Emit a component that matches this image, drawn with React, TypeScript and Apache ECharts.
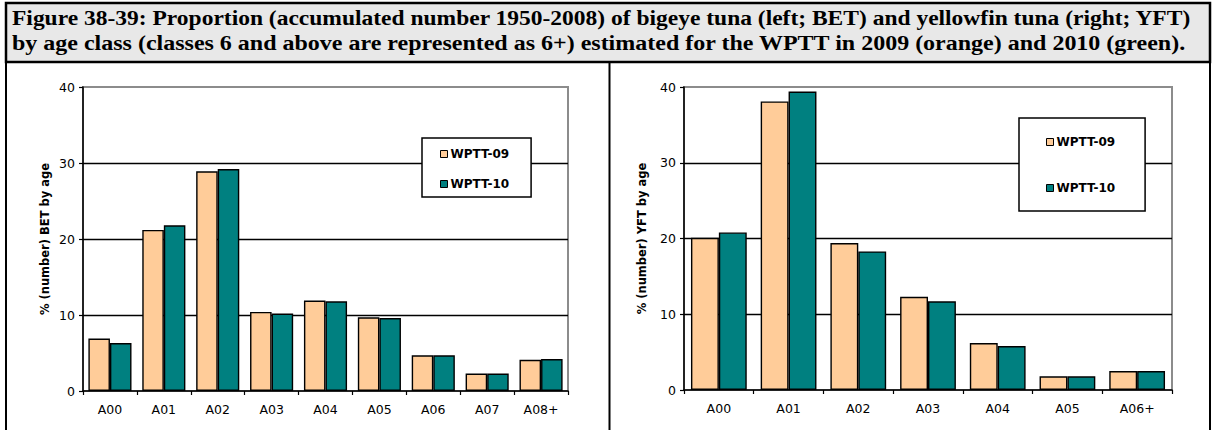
import React, { useEffect, useRef } from "react";
import * as echarts from "echarts";

// Age classes and proportions (%) by number, bigeye (BET) and yellowfin (YFT)
const betAges = ["A00", "A01", "A02", "A03", "A04", "A05", "A06", "A07", "A08+"];
const betWptt09 = [6.9, 21.2, 28.9, 10.4, 11.9, 9.7, 4.7, 2.3, 4.1];
const betWptt10 = [6.3, 21.8, 29.2, 10.2, 11.8, 9.6, 4.7, 2.3, 4.2];

const yftAges = ["A00", "A01", "A02", "A03", "A04", "A05", "A06+"];
const yftWptt09 = [20.1, 38.1, 19.4, 12.3, 6.2, 1.8, 2.5];
const yftWptt10 = [20.8, 39.4, 18.3, 11.7, 5.8, 1.8, 2.5];

const yMin = 0;
const yMax = 40;
const yStep = 10;

const seriesNames = ["WPTT-09", "WPTT-10"];
const seriesColors = ["#FFCC99", "#008080"];

const titleLines = [
  "Figure 38-39: Proportion (accumulated number 1950-2008) of bigeye tuna (left; BET) and yellowfin tuna (right; YFT)",
  "by age class (classes 6 and above are represented as 6+) estimated for the WPTT in 2009 (orange) and 2010 (green).",
];

const axisFont = "DejaVu Sans";
const titleFamily = "Liberation Serif";
const titleSize = 20;

// Horizontal stretch so the caption spans the header box like a wide book face
function captionScale(text: string, target: number) {
  const ctx = document.createElement("canvas").getContext("2d");
  if (!ctx) return 1;
  ctx.font = `bold ${titleSize}px "${titleFamily}"`;
  const w = ctx.measureText(text).width;
  return w > 0 ? target / w : 1;
}

function xAxisFor(ages: string[], gridIndex: number) {
  return {
    type: "category",
    gridIndex,
    data: ages,
    axisLine: { lineStyle: { color: "#000", width: 1.5 } },
    axisTick: { show: true, length: 4, inside: false, lineStyle: { color: "#000", width: 1.2 } },
    axisLabel: { color: "#000", fontFamily: axisFont, fontSize: 12.5, margin: 12 },
  };
}

function yAxisFor(name: string, gridIndex: number, nameGap: number) {
  return {
    type: "value",
    gridIndex,
    min: yMin,
    max: yMax,
    interval: yStep,
    name,
    nameLocation: "middle",
    nameGap,
    nameRotate: 90,
    nameTextStyle: { color: "#000", fontFamily: axisFont, fontSize: 11.5, fontWeight: "bold" },
    axisLine: { show: true, lineStyle: { color: "#000", width: 1.5 } },
    axisTick: { show: true, length: 4, inside: false, lineStyle: { color: "#000", width: 1.2 } },
    axisLabel: { color: "#000", fontFamily: axisFont, fontSize: 12.5, margin: 8 },
    splitLine: { show: true, showMinLine: false, showMaxLine: false, lineStyle: { color: "#000", width: 1.3 } },
  };
}

function barSeries(name: string, color: string, data: number[], idx: number) {
  return {
    type: "bar",
    name,
    xAxisIndex: idx,
    yAxisIndex: idx,
    data,
    barGap: "0%",
    barCategoryGap: "20%",
    itemStyle: { color, borderColor: "#000", borderWidth: 1.4 },
  };
}

function legendAt(left: number, top: number, pad: number[], gap: number) {
  return {
    orient: "vertical",
    left,
    top,
    data: seriesNames,
    icon: "rect",
    itemWidth: 7,
    itemHeight: 7,
    itemGap: gap,
    padding: pad,
    backgroundColor: "#fff",
    borderColor: "#000",
    borderWidth: 1.5,
    borderRadius: 0,
    selectedMode: false,
    itemStyle: { borderColor: "#000", borderWidth: 1 },
    textStyle: { color: "#000", fontFamily: axisFont, fontSize: 12, fontWeight: "bold", lineHeight: 14, padding: [0, 0, 0, -2] },
  };
}

export default function App() {
  const ref = useRef<HTMLDivElement>(null);

  useEffect(() => {
    if (!ref.current) return;
    const chart = echarts.init(ref.current, undefined, { renderer: "svg" });
    const s1 = captionScale(titleLines[0], 1180);
    const s2 = captionScale(titleLines[1], 1175);
    const captionStyle = {
      fill: "#000",
      fontFamily: titleFamily,
      fontSize: titleSize,
      fontWeight: "bold",
      verticalAlign: "bottom",
    };
    chart.setOption({
      animation: false,
      backgroundColor: "#fff",
      grid: [
        { left: 83, top: 87, width: 485, height: 304, show: true, borderColor: "#8c8c8c", borderWidth: 2, backgroundColor: "#fff" },
        { left: 684, top: 87, width: 488, height: 303, show: true, borderColor: "#8c8c8c", borderWidth: 2, backgroundColor: "#fff" },
      ],
      xAxis: [xAxisFor(betAges, 0), xAxisFor(yftAges, 1)],
      yAxis: [yAxisFor("% (number) BET by age", 0, 32), yAxisFor("% (number) YFT by age", 1, 36)],
      legend: [
        legendAt(422, 138, [9, 22, 6, 18], 16),
        legendAt(1019, 118, [17, 30, 16, 27], 32),
      ],
      series: [
        barSeries(seriesNames[0], seriesColors[0], betWptt09, 0),
        barSeries(seriesNames[1], seriesColors[1], betWptt10, 0),
        barSeries(seriesNames[0], seriesColors[0], yftWptt09, 1),
        barSeries(seriesNames[1], seriesColors[1], yftWptt10, 1),
      ],
      graphic: [
        {
          type: "rect",
          shape: { x: 6, y: 3, width: 1204, height: 59 },
          style: { fill: "#e8e8e8", stroke: "#000", lineWidth: 2.5 },
          z: 10,
        },
        {
          type: "text",
          x: 12,
          y: 29,
          scaleX: s1,
          style: { ...captionStyle, text: titleLines[0] },
          z: 11,
        },
        {
          type: "text",
          x: 12,
          y: 53,
          scaleX: s2,
          style: { ...captionStyle, text: titleLines[1] },
          z: 11,
        },
        { type: "line", shape: { x1: 6, y1: 62, x2: 6, y2: 430 }, style: { stroke: "#000", lineWidth: 2 }, z: 10 },
        { type: "line", shape: { x1: 1210, y1: 62, x2: 1210, y2: 430 }, style: { stroke: "#000", lineWidth: 2 }, z: 10 },
        { type: "line", shape: { x1: 609.5, y1: 62, x2: 609.5, y2: 430 }, style: { stroke: "#000", lineWidth: 2 }, z: 10 },
      ],
    });
    return () => chart.dispose();
  }, []);

  return <div ref={ref} style={{ position: "fixed", left: 0, top: 0, width: 1213, height: 430 }} />;
}
